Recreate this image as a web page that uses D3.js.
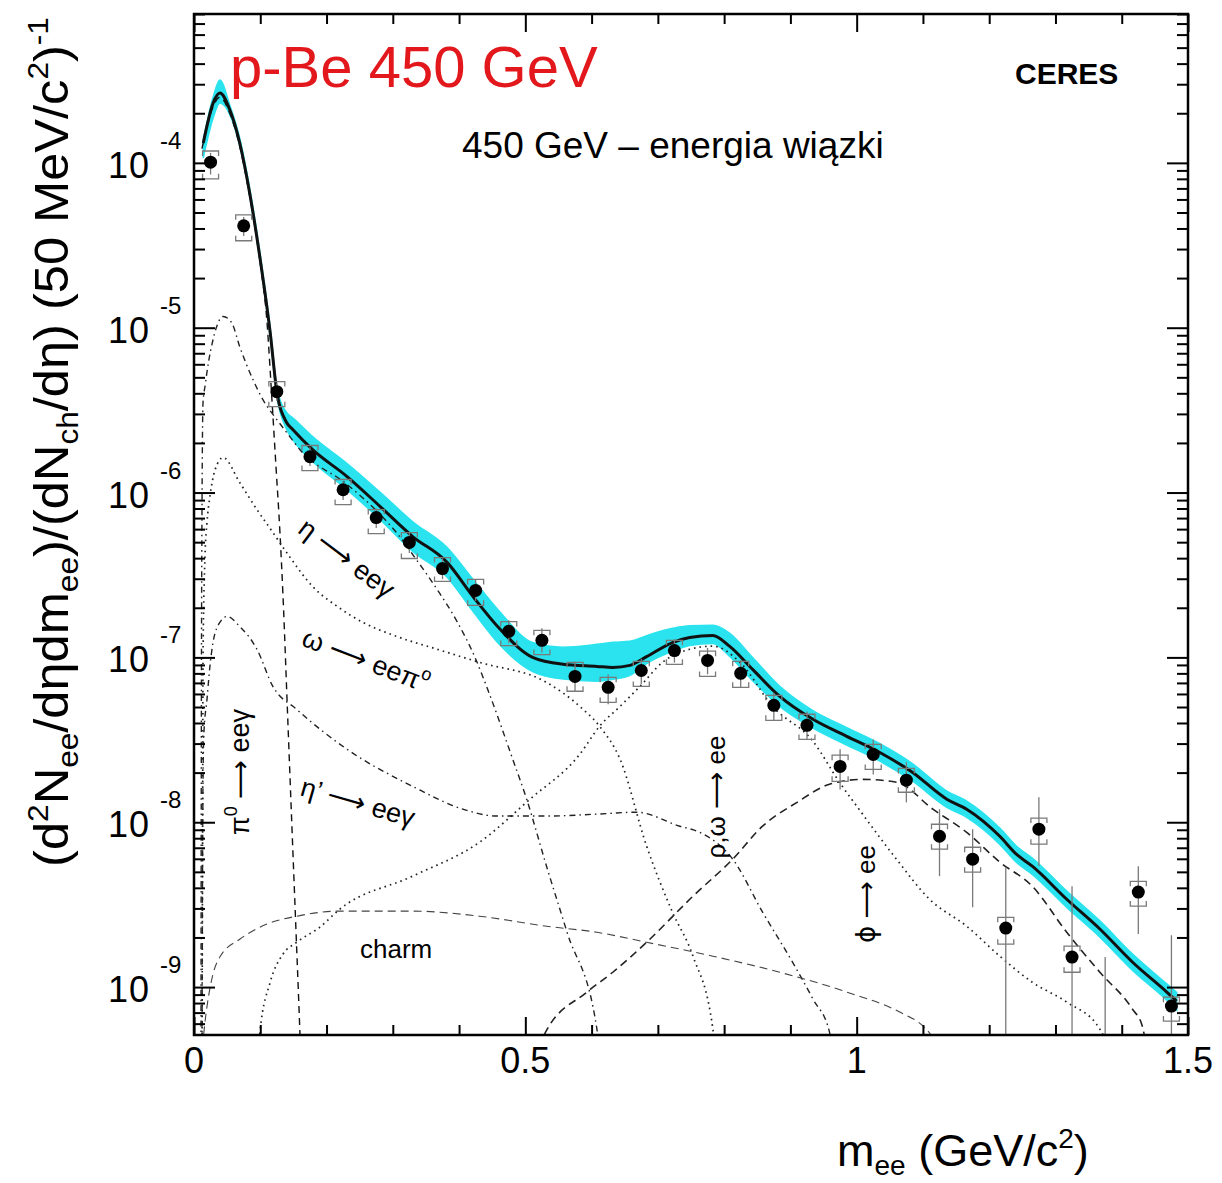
<!DOCTYPE html>
<html><head><meta charset="utf-8">
<script src="https://cdn.jsdelivr.net/npm/d3@7"></script>
<style>
body{margin:0;background:#fff}
text{font-family:"Liberation Sans",Arial,Helvetica,sans-serif}
.arr{font-family:"DejaVu Sans",sans-serif}
</style>
</head><body>
<svg id="c" width="1222" height="1183"></svg>
<script>
// ---------- data ----------
const massBins = [0.025,0.075,0.125,0.175,0.225,0.275,0.325,0.375,0.425,0.475,0.525,0.575,0.625,0.675,0.725,0.775,0.825,0.875,0.925,0.975,1.025,1.075,1.125,1.175,1.225,1.275,1.325,1.375,1.425,1.475];
const yieldVal = [1.01e-4,4.15e-5,4.09e-6,1.65e-6,1.04e-6,7.05e-7,4.98e-7,3.46e-7,2.55e-7,1.44e-7,1.27e-7,7.67e-8,6.58e-8,8.33e-8,1.10e-7,9.59e-8,8.0e-8,5.12e-8,3.87e-8,2.18e-8,2.58e-8,1.8e-8,8.22e-9,5.97e-9,2.28e-9,9.08e-9,1.52e-9,2.0e-10,3.77e-9,7.67e-10];
const sysLow  = [8.0e-5,3.37e-5,3.32e-6,1.36e-6,8.45e-7,5.64e-7,3.98e-7,2.89e-7,2.07e-7,1.18e-7,1.04e-7,6.23e-8,5.33e-8,6.67e-8,9.08e-8,7.67e-8,6.58e-8,4.15e-8,3.18e-8,1.77e-8,2.09e-8,1.52e-8,6.86e-9,4.98e-9,1.82e-9,7.36e-9,1.23e-9,1.6e-10,3.1e-9,6.22e-10];
const sysHigh = [1.18e-4,4.84e-5,4.71e-6,1.93e-6,1.2e-6,7.88e-7,5.72e-7,4.03e-7,2.97e-7,1.65e-7,1.46e-7,9.33e-8,7.57e-8,9.46e-8,1.27e-7,1.09e-7,9.46e-8,5.89e-8,4.52e-8,2.55e-8,2.97e-8,2.12e-8,9.72e-9,7.05e-9,2.65e-9,1.06e-8,1.77e-9,2.4e-10,4.38e-9,8.69e-10];
const statLow  = [8.5e-5,3.6e-5,3.6e-6,1.45e-6,9.0e-7,6.1e-7,4.3e-7,2.98e-7,2.2e-7,1.22e-7,1.07e-7,6.2e-8,5.19e-8,6.9e-8,9.3e-8,7.9e-8,6.6e-8,4.15e-8,3.18e-8,1.58e-8,1.95e-8,1.32e-8,4.71e-9,3.05e-9,1e-11,5.4e-9,1e-11,1e-11,2.1e-9,1e-11];
const statHigh = [1.15e-4,4.7e-5,4.6e-6,1.88e-6,1.17e-6,8.0e-7,5.7e-7,3.98e-7,2.95e-7,1.68e-7,1.5e-7,9.4e-8,7.88e-8,9.8e-8,1.29e-7,1.14e-7,9.6e-8,6.1e-8,4.7e-8,2.77e-8,3.18e-8,2.31e-8,1.2e-8,9.08e-9,5.33e-9,1.42e-8,4.09e-9,1.52e-9,5.4e-9,2.06e-9];

// total cocktail: mass, value, band up-factor, band down-factor
const totalMass = [0.014,0.029,0.039,0.054,0.069,0.084,0.100,0.115,0.125,0.140,0.149,0.179,0.231,0.281,0.330,0.382,0.421,0.462,0.511,0.557,0.608,0.632,0.658,0.683,0.722,0.748,0.783,0.808,0.843,0.884,0.934,0.985,1.035,1.084,1.136,1.166,1.216,1.241,1.265,1.317,1.367,1.416,1.468,1.483];
const totalVal  = [1.32e-4,2.31e-4,2.65e-4,2.10e-4,1.32e-4,6.57e-5,2.58e-5,9.33e-6,4.09e-6,2.65e-6,2.41e-6,1.82e-6,1.25e-6,8.22e-7,5.41e-7,3.77e-7,2.34e-7,1.48e-7,1.0e-7,9.08e-8,8.82e-8,8.69e-8,8.95e-8,1.01e-7,1.23e-7,1.32e-7,1.36e-7,1.17e-7,8.46e-8,5.80e-8,4.21e-8,3.32e-8,2.65e-8,2.01e-8,1.38e-8,1.20e-8,8.22e-9,6.40e-9,5.41e-9,3.41e-9,2.25e-9,1.42e-9,9.33e-10,8.22e-10];
const bandUp    = [1.04,1.09,1.20,1.07,1.07,1.07,1.07,1.07,1.07,1.15,1.18,1.20,1.20,1.22,1.23,1.23,1.27,1.27,1.23,1.27,1.36,1.42,1.40,1.34,1.22,1.18,1.15,1.20,1.18,1.15,1.13,1.13,1.13,1.13,1.12,1.12,1.12,1.12,1.12,1.12,1.12,1.12,1.12,1.13];
const bandDown  = [1.23,1.23,1.15,1.07,1.04,1.04,1.04,1.06,1.06,1.10,1.15,1.18,1.20,1.20,1.23,1.23,1.23,1.25,1.22,1.23,1.23,1.18,1.15,1.10,1.13,1.12,1.12,1.15,1.17,1.15,1.13,1.13,1.13,1.13,1.12,1.12,1.12,1.12,1.12,1.12,1.12,1.12,1.12,1.13];

// components [mass, value]
const pi0Dalitz = [[0.012,1.22e-4],[0.029,2.2e-4],[0.039,2.5e-4],[0.054,2.0e-4],[0.069,1.26e-4],[0.084,6.3e-5],[0.100,2.45e-5],[0.110,1.1e-5],[0.1176,3.66e-6],[0.1237,1.44e-6],[0.1297,5.73e-7],[0.1342,2.41e-7],[0.1418,3.93e-8],[0.1478,9.33e-9],[0.1538,2.25e-9],[0.1599,5.2e-10],[0.162,3e-10]];
const etaDalitz = [[0.0105,3e-10],[0.011,2.1e-8],[0.012,6.86e-7],[0.0136,3.5e-6],[0.017,4.52e-6],[0.022,6.22e-6],[0.028,8.22e-6],[0.034,1.01e-5],[0.044,1.17e-5],[0.057,1.07e-5],[0.069,7.67e-6],[0.089,4.84e-6],[0.104,3.66e-6],[0.125,2.77e-6],[0.140,2.31e-6],[0.160,1.82e-6],[0.231,1.12e-6],[0.281,7.36e-7],[0.308,5.56e-7],[0.330,4.21e-7],[0.367,2.58e-7],[0.397,1.65e-7],[0.424,1.0e-7],[0.446,5.97e-8],[0.481,2.41e-8],[0.502,1.38e-8],[0.532,5.41e-9],[0.563,2.15e-9],[0.608,5.56e-10],[0.615,3e-10]];
const omegaDalitz = [[0.012,3e-10],[0.013,1e-8],[0.0136,1.0e-7],[0.0166,4.09e-7],[0.0196,6.58e-7],[0.024,9.46e-7],[0.032,1.38e-6],[0.044,1.63e-6],[0.069,1.15e-6],[0.095,7.88e-7],[0.119,5.73e-7],[0.145,4.04e-7],[0.179,2.69e-7],[0.216,2.04e-7],[0.255,1.63e-7],[0.306,1.34e-7],[0.367,1.12e-7],[0.431,9.33e-8],[0.532,7.05e-8],[0.582,5.05e-8],[0.612,3.82e-8],[0.643,2.41e-8],[0.683,7.16e-9],[0.722,2.85e-9],[0.753,1.54e-9],[0.783,5.56e-10],[0.79,3e-10]];
const etaPrimeDalitz = [[0.012,3e-10],[0.0136,1.82e-8],[0.015,3.5e-8],[0.0196,5.56e-8],[0.024,8.82e-8],[0.0287,1.23e-7],[0.039,1.63e-7],[0.0498,1.77e-7],[0.069,1.54e-7],[0.095,1.12e-7],[0.119,6.67e-8],[0.155,4.84e-8],[0.231,2.77e-8],[0.330,1.65e-8],[0.406,1.20e-8],[0.457,1.09e-8],[0.532,1.09e-8],[0.608,1.12e-8],[0.668,1.15e-8],[0.733,9.46e-9],[0.763,8.69e-9],[0.813,5.97e-9],[0.858,2.85e-9],[0.903,1.42e-9],[0.934,8.46e-10],[0.959,5.33e-10],[0.967,3e-10]];
const rhoOmegaEE = [[0.096,3e-10],[0.0995,5.33e-10],[0.115,1.07e-9],[0.134,1.58e-9],[0.155,1.87e-9],[0.190,2.31e-9],[0.220,2.97e-9],[0.330,4.71e-9],[0.431,7.57e-9],[0.507,1.38e-8],[0.582,2.58e-8],[0.612,3.82e-8],[0.643,5.05e-8],[0.673,6.67e-8],[0.707,9.33e-8],[0.748,1.12e-7],[0.783,1.17e-7],[0.824,9.33e-8],[0.873,5.05e-8],[0.934,3.1e-8],[0.974,1.75e-8],[1.009,1.12e-8],[1.060,5.97e-9],[1.110,3.41e-9],[1.166,2.34e-9],[1.216,1.54e-9],[1.265,1.07e-9],[1.317,8.11e-10],[1.367,5.56e-10],[1.397,3e-10]];
const phiEE = [[0.522,3e-10],[0.529,5.19e-10],[0.593,9.33e-10],[0.632,1.23e-9],[0.683,1.87e-9],[0.753,3.56e-9],[0.813,5.97e-9],[0.858,9.46e-9],[0.910,1.32e-8],[0.959,1.70e-8],[1.009,1.82e-8],[1.060,1.75e-8],[1.115,1.20e-8],[1.166,8.69e-9],[1.216,5.73e-9],[1.265,4.09e-9],[1.317,2.15e-9],[1.367,1.23e-9],[1.416,7.36e-10],[1.431,5.81e-10],[1.442,3e-10]];
const charm = [[0.009,3e-10],[0.0166,6.14e-10],[0.0287,1.20e-9],[0.039,1.52e-9],[0.069,1.95e-9],[0.110,2.41e-9],[0.155,2.69e-9],[0.220,2.89e-9],[0.330,2.89e-9],[0.431,2.69e-9],[0.532,2.34e-9],[0.608,2.15e-9],[0.683,1.87e-9],[0.783,1.54e-9],[0.884,1.23e-9],[0.985,9.33e-10],[1.065,7.05e-10],[1.100,5.81e-10],[1.125,4.4e-10]];

const xTickLabels = ["0","0.5","1","1.5"];
const xMajor = [0,0.5,1,1.5];
const yExponents = [-4,-5,-6,-7,-8,-9];

// ---------- drawing ----------
const svg = d3.select('#c');
const L = 194, R = 1188, T = 14, B = 1035;
const x = d3.scaleLinear().domain([0,1.5]).range([L,R]);
const y = d3.scaleLog().domain([5.12e-10, 8.0e-4]).range([B,T]);

svg.append('clipPath').attr('id','plot').append('rect')
  .attr('x',L).attr('y',T).attr('width',R-L).attr('height',B-T);
const g = svg.append('g').attr('clip-path','url(#plot)');

// band
const bandData = totalMass.map((m,i)=>({m, lo: totalVal[i]/bandDown[i], hi: totalVal[i]*bandUp[i], v: totalVal[i]}));
g.append('path').datum(bandData)
  .attr('d', d3.area().x(d=>x(d.m)).y0(d=>y(d.lo)).y1(d=>y(d.hi)).curve(d3.curveMonotoneX))
  .attr('fill','#2ae3ee').attr('stroke','#2ae3ee').attr('stroke-width',1.5);

const line = d3.line().x(d=>x(d[0])).y(d=>y(d[1])).curve(d3.curveMonotoneX);
const comps = [
  {d: pi0Dalitz, dash:'7,5', w:1.4, c:'#111'},
  {d: etaDalitz, dash:'6,4,1.5,4', w:1.4, c:'#222'},
  {d: omegaDalitz, dash:'1.6,4', w:1.7, c:'#222'},
  {d: etaPrimeDalitz, dash:'6,4,1.5,4', w:1.4, c:'#222'},
  {d: rhoOmegaEE, dash:'1.6,4', w:1.7, c:'#222'},
  {d: phiEE, dash:'8,5', w:1.6, c:'#222'},
  {d: charm, dash:'8,5', w:1.1, c:'#444'}
];
comps.forEach(cp=>{
  g.append('path').datum(cp.d).attr('d', line)
   .attr('fill','none').attr('stroke',cp.c).attr('stroke-width',cp.w)
   .attr('stroke-dasharray',cp.dash);
});

// total line
g.append('path').datum(bandData)
  .attr('d', d3.line().x(d=>x(d.m)).y(d=>y(d.v)).curve(d3.curveMonotoneX))
  .attr('fill','none').attr('stroke','#111').attr('stroke-width',3);

// error bars
const eb = g.append('g').attr('stroke','#7a7a7a').attr('stroke-width',1.3).attr('fill','none');
massBins.forEach((m,i)=>{
  const cx = x(m);
  eb.append('line').attr('x1',cx).attr('x2',cx).attr('y1',y(statLow[i])).attr('y2',y(statHigh[i]));
  const yt = y(sysHigh[i]), yb = y(sysLow[i]), hw = 8, hk = 5;
  eb.append('path').attr('d',`M${cx-hw},${yt+hk}V${yt}H${cx+hw}V${yt+hk}`);
  eb.append('path').attr('d',`M${cx-hw},${yb-hk}V${yb}H${cx+hw}V${yb-hk}`);
});
g.append('g').selectAll('circle').data(massBins).join('circle')
  .attr('cx',d=>x(d)).attr('cy',(d,i)=>y(yieldVal[i])).attr('r',6.5).attr('fill','#000');

// frame
svg.append('rect').attr('x',L).attr('y',T).attr('width',R-L).attr('height',B-T)
  .attr('fill','none').attr('stroke','#000').attr('stroke-width',2.5);

// ticks via axes
const xMinor = d3.range(0,16).map(i=>i/10).filter(v=>!xMajor.includes(v));
const yMinor = [], yMaj = [];
for (let e=-10;e<=-3;e++){ for (let k=1;k<=9;k++){ const v=k*Math.pow(10,e); if (v>=5.12e-10 && v<=8.0e-4){ (k===1?yMaj:yMinor).push(v);} } }
function tickAxis(axis, tr){
  const a = svg.append('g').attr('transform',tr).call(axis);
  a.select('.domain').remove();
  a.selectAll('line').attr('stroke','#000').attr('stroke-width',2);
  a.selectAll('text').remove();
}
tickAxis(d3.axisBottom(x).tickValues(xMinor).tickSize(-10).tickFormat(''), `translate(0,${B})`);
tickAxis(d3.axisBottom(x).tickValues(xMajor).tickSize(-18).tickFormat(''), `translate(0,${B})`);
tickAxis(d3.axisTop(x).tickValues(xMinor).tickSize(-10).tickFormat(''), `translate(0,${T})`);
tickAxis(d3.axisTop(x).tickValues(xMajor).tickSize(-18).tickFormat(''), `translate(0,${T})`);
tickAxis(d3.axisLeft(y).tickValues(yMinor).tickSize(-11).tickFormat(''), `translate(${L},0)`);
tickAxis(d3.axisLeft(y).tickValues(yMaj).tickSize(-21).tickFormat(''), `translate(${L},0)`);
tickAxis(d3.axisRight(y).tickValues(yMinor).tickSize(-11).tickFormat(''), `translate(${R},0)`);
tickAxis(d3.axisRight(y).tickValues(yMaj).tickSize(-21).tickFormat(''), `translate(${R},0)`);

// tick labels
xMajor.forEach((v,i)=>{
  svg.append('text').attr('x',x(v)).attr('y',1073).attr('text-anchor','middle')
    .attr('font-size',36).text(xTickLabels[i]);
});
yExponents.forEach(e=>{
  const yy = y(Math.pow(10,e));
  svg.append('text').attr('x',150).attr('y',yy+15).attr('text-anchor','end')
    .attr('font-size',36).attr('letter-spacing',1).text('10');
  svg.append('text').attr('x',160).attr('y',yy-14).attr('font-size',24).text('-'+(-e));
});

// titles
svg.append('text').attr('x',230).attr('y',87).attr('font-size',58).attr('fill','#e2181c').text('p-Be 450 GeV');
svg.append('text').attr('x',1015).attr('y',84).attr('font-size',30).attr('font-weight','bold').text('CERES');
svg.append('text').attr('x',462).attr('y',158).attr('font-size',37).text('450 GeV \u2013 energia wi\u0105zki');

// x axis title
const xt = svg.append('text').attr('x',837).attr('y',1166).attr('font-size',45);
xt.append('tspan').text('m');
xt.append('tspan').attr('font-size',28).attr('dy',9).text('ee');
xt.append('tspan').attr('dy',-9).text(' (GeV/c');
xt.append('tspan').attr('font-size',28).attr('dy',-18).text('2');
xt.append('tspan').attr('dy',18).text(')');

// y axis title
const ytg = svg.append('g').attr('transform','translate(68,442) rotate(-90)');
const yt = ytg.append('text').attr('x',0).attr('y',0).attr('text-anchor','middle').attr('font-size',48);
const parts = [
  ['(d',0,48],['2',-20,30],['N',20,48],['ee',10,30],['/d\u03b7dm',-10,48],['ee',10,30],[')/(dN',-10,48],['ch',10,30],['/d\u03b7) (50 MeV/c',-10,48],['2',-20,30],[')',20,48],['-1',-20,30]
];
parts.forEach(p=>{ yt.append('tspan').attr('dy',p[1]).attr('font-size',p[2]).text(p[0]); });
const bb = yt.node().getBBox();
const sc = 850/bb.width;
ytg.attr('transform',`translate(68,442) rotate(-90) scale(${sc},1)`);

// curve annotations: parts [text, dy, fontSize, isArrow]
function ann(parts, cx, cy, rot, fs){
  fs = fs || 27;
  const t = svg.append('text').attr('transform',`translate(${cx},${cy}) rotate(${rot})`)
    .attr('text-anchor','middle').attr('dy','0.35em').attr('font-size',fs);
  parts.forEach(p=>{
    const s = t.append('tspan').text(p[0]);
    if (p[1]) s.attr('dy',p[1]);
    s.attr('font-size', p[2] || fs);
    if (p[3]) s.attr('class','arr');
  });
  return t;
}
const ARROW = '\u27f6';
ann([['\u03b7 '],[ARROW,0,27,true],[' ee\u03b3']], 347, 558, 37);
ann([['\u03c9 '],[ARROW,0,27,true],[' ee\u03c0'],['o',-12,18]], 366, 660, 21);
ann([['\u03b7\u2019 '],[ARROW,0,27,true],[' ee\u03b3']], 358, 802, 16);
ann([['\u03c0'],['0',-12,18],[' ',12,27],[ARROW,0,27,true],[' ee\u03b3']], 240, 772, -90);
ann([['\u03c1,\u03c9 '],[ARROW,0,26,true],[' ee']], 716, 797, -90, 26);
ann([['\u03d5',0,26,true],[' '],[ARROW,0,26,true],[' ee']], 866, 894, -90, 26);
svg.append('text').attr('x',360).attr('y',958).attr('font-size',26).text('charm');
</script>
</body></html>
